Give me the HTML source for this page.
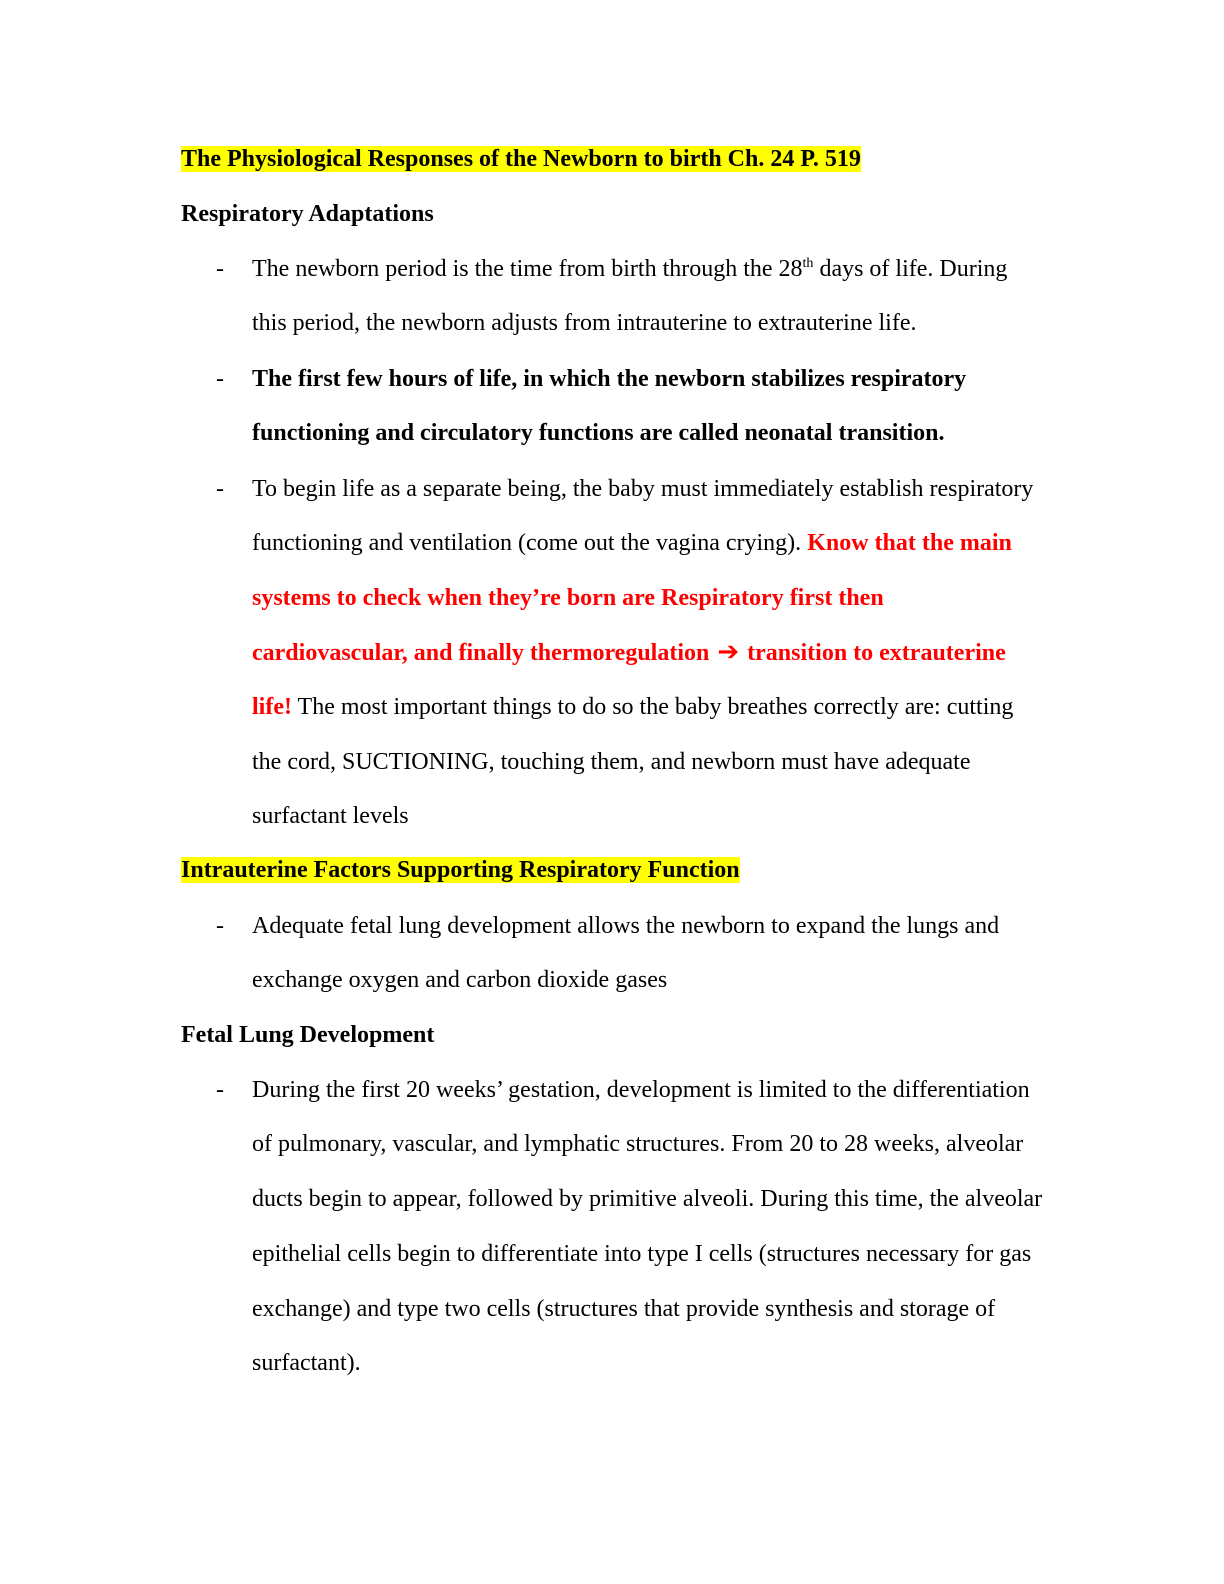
<!DOCTYPE html>
<html><head><meta charset="utf-8"><style>
body{margin:0;background:#fff;}
.p{position:relative;width:1224px;height:1584px;font-family:"Liberation Serif",serif;font-size:24px;color:#000;}
.l{position:absolute;white-space:nowrap;line-height:28px;height:28px;}
.b{font-weight:bold}
.r{color:#ff0000;font-weight:bold}
.hl{background:#ffff00}
sup{font-size:14px;line-height:0}
.ar{font-family:"DejaVu Sans",sans-serif;font-size:26px;margin:0 2px}
</style></head><body><div class="p">
<div class="l b" style="left:181px;top:145px"><span class="hl">The Physiological Responses of the Newborn to birth Ch. 24 P. 519</span></div>
<div class="l b" style="left:181px;top:200px">Respiratory Adaptations</div>
<div class="l" style="left:216px;top:255px">-</div>
<div class="l" style="left:252px;top:255px">The newborn period is the time from birth through the 28<sup>th</sup> days of life. During</div>
<div class="l" style="left:252px;top:309px">this period, the newborn adjusts from intrauterine to extrauterine life.</div>
<div class="l" style="left:216px;top:365px">-</div>
<div class="l b" style="left:252px;top:365px">The first few hours of life, in which the newborn stabilizes respiratory</div>
<div class="l b" style="left:252px;top:419px">functioning and circulatory functions are called neonatal transition.</div>
<div class="l" style="left:216px;top:475px">-</div>
<div class="l" style="left:252px;top:475px">To begin life as a separate being, the baby must immediately establish respiratory</div>
<div class="l" style="left:252px;top:529px">functioning and ventilation (come out the vagina crying). <span class="r">Know that the main</span></div>
<div class="l r" style="left:252px;top:584px">systems to check when they’re born are Respiratory first then</div>
<div class="l r" style="left:252px;top:638px">cardiovascular, and finally thermoregulation <span class="ar">➔</span> transition to extrauterine</div>
<div class="l" style="left:252px;top:693px"><span class="r">life!</span> The most important things to do so the baby breathes correctly are: cutting</div>
<div class="l" style="left:252px;top:748px">the cord, SUCTIONING, touching them, and newborn must have adequate</div>
<div class="l" style="left:252px;top:802px">surfactant levels</div>
<div class="l b" style="left:181px;top:856px"><span class="hl">Intrauterine Factors Supporting Respiratory Function</span></div>
<div class="l" style="left:216px;top:912px">-</div>
<div class="l" style="left:252px;top:912px">Adequate fetal lung development allows the newborn to expand the lungs and</div>
<div class="l" style="left:252px;top:966px">exchange oxygen and carbon dioxide gases</div>
<div class="l b" style="left:181px;top:1021px">Fetal Lung Development</div>
<div class="l" style="left:216px;top:1076px">-</div>
<div class="l" style="left:252px;top:1076px">During the first 20 weeks’ gestation, development is limited to the differentiation</div>
<div class="l" style="left:252px;top:1130px">of pulmonary, vascular, and lymphatic structures. From 20 to 28 weeks, alveolar</div>
<div class="l" style="left:252px;top:1185px">ducts begin to appear, followed by primitive alveoli. During this time, the alveolar</div>
<div class="l" style="left:252px;top:1240px">epithelial cells begin to differentiate into type I cells (structures necessary for gas</div>
<div class="l" style="left:252px;top:1295px">exchange) and type two cells (structures that provide synthesis and storage of</div>
<div class="l" style="left:252px;top:1349px">surfactant).</div>
</div></body></html>
